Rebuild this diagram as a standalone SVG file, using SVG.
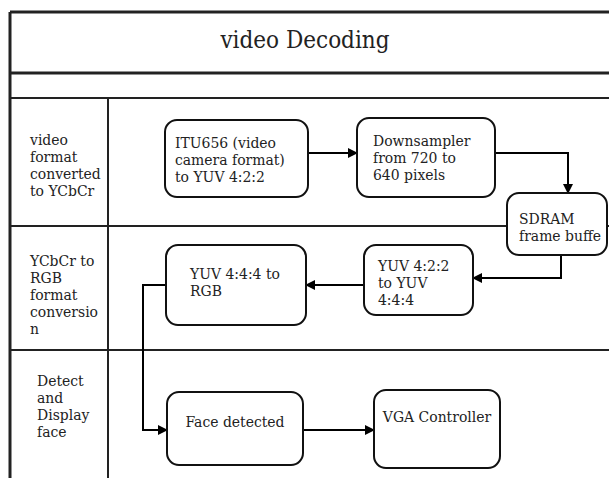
<svg xmlns="http://www.w3.org/2000/svg" width="609" height="478" viewBox="0 0 609 478">
<defs>
<marker id="ah" markerWidth="10" markerHeight="10" refX="9" refY="5" orient="auto" markerUnits="userSpaceOnUse">
<path d="M0,0 L10,5 L0,10 Z" fill="#000"/>
</marker>
<style>
text{font-family:"DejaVu Serif Condensed","DejaVu Serif","Liberation Serif",serif;font-stretch:condensed}
.t{fill:#222;font-size:15.5px}
.box{fill:#fff;stroke:#111;stroke-width:2}
.lane{stroke:#222;stroke-width:2;fill:none}
.c{stroke:#000;stroke-width:2;fill:none}
</style>
</defs>
<rect width="609" height="478" fill="#fff"/>
<g id="frame">
<line class="lane" x1="10" y1="12" x2="609" y2="12" style="stroke-width:3"/>
<line class="lane" x1="10" y1="12" x2="10" y2="478" style="stroke-width:3"/>
<line class="lane" x1="10" y1="73" x2="609" y2="73" style="stroke-width:3"/>
<line class="lane" x1="10" y1="98" x2="609" y2="98"/>
<line class="lane" x1="10" y1="226" x2="609" y2="226"/>
<line class="lane" x1="10" y1="350" x2="609" y2="350"/>
<line class="lane" x1="108" y1="98" x2="108" y2="478"/>
<text x="305" y="48" text-anchor="middle" font-size="24" fill="#222">video Decoding</text>
</g>
<g id="lane1"><text class="t"><tspan x="30" y="145">video</tspan><tspan x="30" y="162">format</tspan><tspan x="30" y="179">converted</tspan><tspan x="30" y="196">to YCbCr</tspan></text></g>
<g id="lane2"><text class="t"><tspan x="30" y="266">YCbCr to</tspan><tspan x="30" y="283">RGB</tspan><tspan x="30" y="300">format</tspan><tspan x="30" y="317">conversio</tspan><tspan x="30" y="334">n</tspan></text></g>
<g id="lane3"><text class="t"><tspan x="37" y="386">Detect</tspan><tspan x="37" y="403">and</tspan><tspan x="37" y="420">Display</tspan><tspan x="37" y="437">face</tspan></text></g>
<g id="connectors">
<line class="c" x1="308" y1="153" x2="357" y2="153" marker-end="url(#ah)"/>
<polyline class="c" points="495,153 568,153 568,193" marker-end="url(#ah)"/>
<polyline class="c" points="561,255 561,278 473,278" marker-end="url(#ah)"/>
<line class="c" x1="364" y1="285" x2="306" y2="285" marker-end="url(#ah)"/>
<polyline class="c" points="166,285 143,285 143,430 167,430" marker-end="url(#ah)"/>
<line class="c" x1="303" y1="430" x2="374" y2="430" marker-end="url(#ah)"/>
</g>
<g id="itu"><rect class="box" x="165" y="120" width="143" height="77" rx="12"/><text class="t"><tspan x="175" y="148">ITU656 (video</tspan><tspan x="175" y="165">camera format)</tspan><tspan x="175" y="182">to YUV 4:2:2</tspan></text></g>
<g id="downsampler"><rect class="box" x="357" y="118" width="138" height="79" rx="12"/><text class="t"><tspan x="373" y="146">Downsampler</tspan><tspan x="373" y="163">from 720 to</tspan><tspan x="373" y="180">640 pixels</tspan></text></g>
<g id="sdram"><rect class="box" x="507" y="193" width="100" height="62" rx="12"/><text class="t"><tspan x="519" y="224">SDRAM</tspan><tspan x="519" y="241">frame buffe</tspan></text></g>
<g id="yuv422"><rect class="box" x="364" y="245" width="109" height="70" rx="12"/><text class="t"><tspan x="378" y="271">YUV 4:2:2</tspan><tspan x="378" y="288">to YUV</tspan><tspan x="378" y="305">4:4:4</tspan></text></g>
<g id="yuv444"><rect class="box" x="166" y="245" width="140" height="80" rx="12"/><text class="t"><tspan x="190" y="279">YUV 4:4:4 to</tspan><tspan x="190" y="296">RGB</tspan></text></g>
<g id="face"><rect class="box" x="167" y="392" width="136" height="73" rx="12"/><text class="t" x="235" y="427" text-anchor="middle">Face detected</text></g>
<g id="vga"><rect class="box" x="374" y="390" width="126" height="78" rx="12"/><text class="t" x="437" y="422" text-anchor="middle">VGA Controller</text></g>
</svg>
